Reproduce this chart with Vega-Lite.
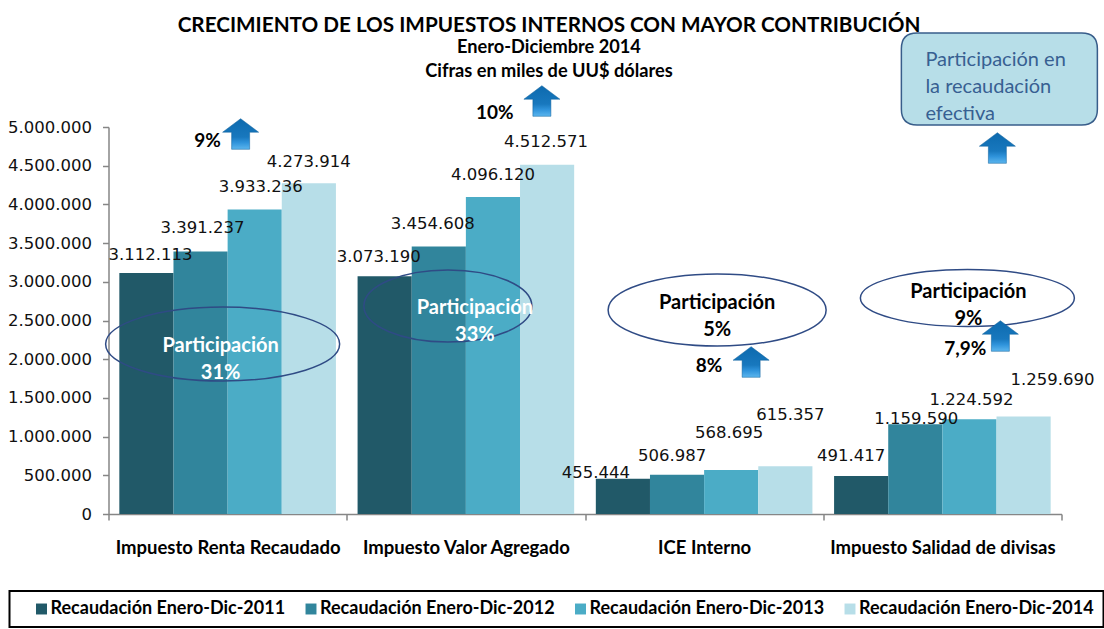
{"$schema":"https://vega.github.io/schema/vega-lite/v6.json","width":953,"height":387,"autosize":{"type":"none"},"padding":{"left":108.5,"top":127,"right":42,"bottom":115},"background":"white",
"config":{"view":{"stroke":null},"legend":{"strokeWidth":2},"locale":{"number":{"decimal":",","thousands":".","grouping":[3],"currency":["$",""]}},"text":{"font":"DejaVu Sans"}},
"title":{"text":"CRECIMIENTO DE LOS IMPUESTOS INTERNOS CON MAYOR CONTRIBUCIÓN","subtitle":["Enero-Diciembre 2014","Cifras en miles de UU$ dólares"],"font":"Lato","fontSize":20.7,"fontWeight":"bold","color":"black","subtitleFont":"Lato","subtitleFontSize":18.2,"subtitleFontWeight":"bold","subtitleColor":"black","subtitleLineHeight":24,"subtitlePadding":2,"anchor":"middle","dx":-36,"offset":-51},
"datasets":{"bars":[
{"impuesto":"Impuesto Renta Recaudado","serie":"Recaudación Enero-Dic-2011","valor":3112113},
{"impuesto":"Impuesto Renta Recaudado","serie":"Recaudación Enero-Dic-2012","valor":3391237},
{"impuesto":"Impuesto Renta Recaudado","serie":"Recaudación Enero-Dic-2013","valor":3933236},
{"impuesto":"Impuesto Renta Recaudado","serie":"Recaudación Enero-Dic-2014","valor":4273914},
{"impuesto":"Impuesto Valor Agregado","serie":"Recaudación Enero-Dic-2011","valor":3073190},
{"impuesto":"Impuesto Valor Agregado","serie":"Recaudación Enero-Dic-2012","valor":3454608},
{"impuesto":"Impuesto Valor Agregado","serie":"Recaudación Enero-Dic-2013","valor":4096120},
{"impuesto":"Impuesto Valor Agregado","serie":"Recaudación Enero-Dic-2014","valor":4512571},
{"impuesto":"ICE Interno","serie":"Recaudación Enero-Dic-2011","valor":455444},
{"impuesto":"ICE Interno","serie":"Recaudación Enero-Dic-2012","valor":506987},
{"impuesto":"ICE Interno","serie":"Recaudación Enero-Dic-2013","valor":568695},
{"impuesto":"ICE Interno","serie":"Recaudación Enero-Dic-2014","valor":615357},
{"impuesto":"Impuesto Salidad de divisas","serie":"Recaudación Enero-Dic-2011","valor":491417},
{"impuesto":"Impuesto Salidad de divisas","serie":"Recaudación Enero-Dic-2012","valor":1159590},
{"impuesto":"Impuesto Salidad de divisas","serie":"Recaudación Enero-Dic-2013","valor":1224592},
{"impuesto":"Impuesto Salidad de divisas","serie":"Recaudación Enero-Dic-2014","valor":1259690}],
"notes":[
{"id":"a1","impuesto":"Impuesto Renta Recaudado","valor":4909600},
{"id":"a2","impuesto":"Impuesto Valor Agregado","valor":5336000},
{"id":"a3","impuesto":"ICE Interno","valor":1963900},
{"id":"a4","impuesto":"Impuesto Salidad de divisas","valor":2299700},
{"id":"a5","impuesto":"Impuesto Salidad de divisas","valor":4728700},
{"id":"p1","impuesto":"Impuesto Renta Recaudado","valor":4819000,"texto":"9%"},
{"id":"p2","impuesto":"Impuesto Valor Agregado","valor":5181000,"texto":"10%"},
{"id":"p3","impuesto":"ICE Interno","valor":1912000,"texto":"8%"},
{"id":"p4","impuesto":"Impuesto Salidad de divisas","valor":2131800,"texto":"7,9%"},
{"id":"e1","impuesto":"Impuesto Renta Recaudado","valor":2196000},
{"id":"e2","impuesto":"Impuesto Valor Agregado","valor":2687000},
{"id":"e3","impuesto":"ICE Interno","valor":2635600},
{"id":"e4","impuesto":"Impuesto Salidad de divisas","valor":2790700},
{"id":"t1","impuesto":"Impuesto Renta Recaudado","valor":2170000,"texto":"Participación\n31%"},
{"id":"t2","impuesto":"Impuesto Valor Agregado","valor":2661000,"texto":"Participación\n33%"},
{"id":"t3","impuesto":"ICE Interno","valor":2726000,"texto":"Participación\n5%"},
{"id":"t4","impuesto":"Impuesto Salidad de divisas","valor":2868000,"texto":"Participación\n9%"},
{"id":"box","impuesto":"Impuesto Salidad de divisas","valor":5620000},
{"id":"boxt","impuesto":"Impuesto Salidad de divisas","valor":5865000,"texto":"Participación en\nla recaudación\nefectiva"}]},
"data":{"name":"bars"},
"encoding":{"x":{"field":"impuesto","type":"nominal","sort":null,"scale":{"paddingInner":0,"paddingOuter":0},"axis":{"title":null,"labelAngle":0,"labelFont":"Lato","labelFontWeight":"bold","labelFontSize":18.5,"labelColor":"black","labelPadding":18,"labelLimit":300,"tickBand":"extent","tickSize":6,"tickColor":"#868686","domainColor":"#868686","domainWidth":1.5,"tickWidth":1.5}},
"y":{"field":"valor","type":"quantitative","scale":{"domain":[0,5000000],"nice":false},"axis":{"title":null,"values":[0,500000,1000000,1500000,2000000,2500000,3000000,3500000,4000000,4500000,5000000],"format":",d","grid":false,"labelFont":"DejaVu Sans","labelFontSize":16.5,"labelColor":"#111","labelPadding":11,"tickSize":6,"tickColor":"#868686","domainColor":"#868686","domainWidth":1.5,"tickWidth":1.5}}},
"layer":[
{"mark":{"type":"bar","clip":false},"encoding":{"xOffset":{"field":"serie","type":"nominal","sort":null,"scale":{"paddingInner":0,"paddingOuter":0.2}},
"color":{"field":"serie","type":"nominal","sort":null,"scale":{"range":["#215968","#31859C","#4BACC6","#B7DEE8"]},"legend":{"title":null,"orient":"none","legendX":-99,"legendY":464,"direction":"horizontal","columns":4,"symbolType":"square","symbolSize":120,"symbolStrokeWidth":0,"labelFont":"Lato","labelFontWeight":"bold","labelFontSize":18,"labelColor":"black","labelLimit":300,"labelOffset":0,"columnPadding":2.5,"padding":9,"strokeColor":"black","fillColor":"white","symbolOffset":14}}}},
{"transform":[{"filter":"datum.valor==3112113"}],"mark":{"type":"text","fontSize":16.5,"dx":4,"dy":-18,"color":"#111"},"encoding":{"xOffset":{"field":"serie","type":"nominal","sort":null},"text":{"field":"valor","format":",d"}}},
{"transform":[{"filter":"datum.valor==3391237"}],"mark":{"type":"text","fontSize":16.5,"dx":2,"dy":-24,"color":"#111"},"encoding":{"xOffset":{"field":"serie","type":"nominal","sort":null},"text":{"field":"valor","format":",d"}}},
{"transform":[{"filter":"datum.valor==3933236"}],"mark":{"type":"text","fontSize":16.5,"dx":6,"dy":-23,"color":"#111"},"encoding":{"xOffset":{"field":"serie","type":"nominal","sort":null},"text":{"field":"valor","format":",d"}}},
{"transform":[{"filter":"datum.valor==4273914"}],"mark":{"type":"text","fontSize":16.5,"dx":0,"dy":-21,"color":"#111"},"encoding":{"xOffset":{"field":"serie","type":"nominal","sort":null},"text":{"field":"valor","format":",d"}}},
{"transform":[{"filter":"datum.valor==3073190"}],"mark":{"type":"text","fontSize":16.5,"dx":-6,"dy":-19,"color":"#111"},"encoding":{"xOffset":{"field":"serie","type":"nominal","sort":null},"text":{"field":"valor","format":",d"}}},
{"transform":[{"filter":"datum.valor==3454608"}],"mark":{"type":"text","fontSize":16.5,"dx":-6,"dy":-23,"color":"#111"},"encoding":{"xOffset":{"field":"serie","type":"nominal","sort":null},"text":{"field":"valor","format":",d"}}},
{"transform":[{"filter":"datum.valor==4096120"}],"mark":{"type":"text","fontSize":16.5,"dx":0,"dy":-22,"color":"#111"},"encoding":{"xOffset":{"field":"serie","type":"nominal","sort":null},"text":{"field":"valor","format":",d"}}},
{"transform":[{"filter":"datum.valor==4512571"}],"mark":{"type":"text","fontSize":16.5,"dx":-1,"dy":-23,"color":"#111"},"encoding":{"xOffset":{"field":"serie","type":"nominal","sort":null},"text":{"field":"valor","format":",d"}}},
{"transform":[{"filter":"datum.valor==455444"}],"mark":{"type":"text","fontSize":16.5,"dx":-27,"dy":-6,"color":"#111"},"encoding":{"xOffset":{"field":"serie","type":"nominal","sort":null},"text":{"field":"valor","format":",d"}}},
{"transform":[{"filter":"datum.valor==506987"}],"mark":{"type":"text","fontSize":16.5,"dx":-5,"dy":-19,"color":"#111"},"encoding":{"xOffset":{"field":"serie","type":"nominal","sort":null},"text":{"field":"valor","format":",d"}}},
{"transform":[{"filter":"datum.valor==568695"}],"mark":{"type":"text","fontSize":16.5,"dx":-2,"dy":-37,"color":"#111"},"encoding":{"xOffset":{"field":"serie","type":"nominal","sort":null},"text":{"field":"valor","format":",d"}}},
{"transform":[{"filter":"datum.valor==615357"}],"mark":{"type":"text","fontSize":16.5,"dx":5,"dy":-51,"color":"#111"},"encoding":{"xOffset":{"field":"serie","type":"nominal","sort":null},"text":{"field":"valor","format":",d"}}},
{"transform":[{"filter":"datum.valor==491417"}],"mark":{"type":"text","fontSize":16.5,"dx":-10,"dy":-20,"color":"#111"},"encoding":{"xOffset":{"field":"serie","type":"nominal","sort":null},"text":{"field":"valor","format":",d"}}},
{"transform":[{"filter":"datum.valor==1159590"}],"mark":{"type":"text","fontSize":16.5,"dx":1,"dy":-5,"color":"#111"},"encoding":{"xOffset":{"field":"serie","type":"nominal","sort":null},"text":{"field":"valor","format":",d"}}},
{"transform":[{"filter":"datum.valor==1224592"}],"mark":{"type":"text","fontSize":16.5,"dx":2,"dy":-19,"color":"#111"},"encoding":{"xOffset":{"field":"serie","type":"nominal","sort":null},"text":{"field":"valor","format":",d"}}},
{"transform":[{"filter":"datum.valor==1259690"}],"mark":{"type":"text","fontSize":16.5,"dx":29,"dy":-37,"color":"#111"},"encoding":{"xOffset":{"field":"serie","type":"nominal","sort":null},"text":{"field":"valor","format":",d"}}},
{"data":{"name":"notes"},"transform":[{"filter":"datum.id=='e1'"}],"mark":{"type":"point","xOffset":-5,"size":54756,"filled":false,"stroke":"#2F4B85","strokeWidth":1.5,"opacity":1,"shape":"M-1,0C-1,-0.175,-0.552,-0.316,0,-0.316C0.552,-0.316,1,-0.175,1,0C1,0.175,0.552,0.316,0,0.316C-0.552,0.316,-1,0.175,-1,0Z"}},
{"data":{"name":"notes"},"transform":[{"filter":"datum.id=='e2'"}],"mark":{"type":"point","xOffset":-18,"size":28224,"filled":false,"stroke":"#2F4B85","strokeWidth":1.5,"opacity":1,"shape":"M-1,0C-1,-0.237,-0.552,-0.429,0,-0.429C0.552,-0.429,1,-0.237,1,0C1,0.237,0.552,0.429,0,0.429C-0.552,0.429,-1,0.237,-1,0Z"}},
{"data":{"name":"notes"},"transform":[{"filter":"datum.id=='e3'"}],"mark":{"type":"point","xOffset":13,"size":47524,"filled":false,"stroke":"#2F4B85","strokeWidth":1.5,"opacity":1,"shape":"M-1,0C-1,-0.182,-0.552,-0.33,0,-0.33C0.552,-0.33,1,-0.182,1,0C1,0.182,0.552,0.33,0,0.33C-0.552,0.33,-1,0.182,-1,0Z"}},
{"data":{"name":"notes"},"transform":[{"filter":"datum.id=='e4'"}],"mark":{"type":"point","xOffset":25,"size":45796,"filled":false,"stroke":"#2F4B85","strokeWidth":1.5,"opacity":1,"shape":"M-1,0C-1,-0.147,-0.552,-0.266,0,-0.266C0.552,-0.266,1,-0.147,1,0C1,0.147,0.552,0.266,0,0.266C-0.552,0.266,-1,0.147,-1,0Z"}},
{"data":{"name":"notes"},"transform":[{"filter":"datum.id=='box'"}],"mark":{"type":"point","xOffset":57,"size":38416,"filled":true,"fill":"#B7DEE8","stroke":"#385D8A","strokeWidth":1.5,"opacity":1,"shape":"M-0.84,-0.469L0.84,-0.469Q1,-0.469,1,-0.309L1,0.309Q1,0.469,0.84,0.469L-0.84,0.469Q-1,0.469,-1,0.309L-1,-0.309Q-1,-0.469,-0.84,-0.469Z"}},
{"data":{"name":"notes"},"transform":[{"filter":"datum.id=='boxt'"}],"mark":{"type":"text","xOffset":-17,"align":"left","font":"Lato","fontSize":20,"lineBreak":"\n","lineHeight":27,"color":"#376092"},"encoding":{"text":{"field":"texto"}}},
{"data":{"name":"notes"},"transform":[{"filter":"datum.id=='t1'"}],"mark":{"type":"text","xOffset":-7,"font":"Lato","fontWeight":"bold","fontSize":20,"lineBreak":"\n","lineHeight":27,"color":"white"},"encoding":{"text":{"field":"texto"}}},
{"data":{"name":"notes"},"transform":[{"filter":"datum.id=='t2'"}],"mark":{"type":"text","xOffset":9,"font":"Lato","fontWeight":"bold","fontSize":20,"lineBreak":"\n","lineHeight":27,"color":"white"},"encoding":{"text":{"field":"texto"}}},
{"data":{"name":"notes"},"transform":[{"filter":"datum.id=='t3'"}],"mark":{"type":"text","xOffset":13,"font":"Lato","fontWeight":"bold","fontSize":20,"lineBreak":"\n","lineHeight":27,"color":"black"},"encoding":{"text":{"field":"texto"}}},
{"data":{"name":"notes"},"transform":[{"filter":"datum.id=='t4'"}],"mark":{"type":"text","xOffset":26,"font":"Lato","fontWeight":"bold","fontSize":20,"lineBreak":"\n","lineHeight":27,"color":"black"},"encoding":{"text":{"field":"texto"}}},
{"data":{"name":"notes"},"transform":[{"filter":"datum.id=='p1'"}],"mark":{"type":"text","xOffset":-20,"font":"Lato","fontWeight":"bold","fontSize":19,"color":"black"},"encoding":{"text":{"field":"texto"}}},
{"data":{"name":"notes"},"transform":[{"filter":"datum.id=='p2'"}],"mark":{"type":"text","xOffset":29,"font":"Lato","fontWeight":"bold","fontSize":19,"color":"black"},"encoding":{"text":{"field":"texto"}}},
{"data":{"name":"notes"},"transform":[{"filter":"datum.id=='p3'"}],"mark":{"type":"text","xOffset":5,"font":"Lato","fontWeight":"bold","fontSize":19,"color":"black"},"encoding":{"text":{"field":"texto"}}},
{"data":{"name":"notes"},"transform":[{"filter":"datum.id=='p4'"}],"mark":{"type":"text","xOffset":23,"font":"Lato","fontWeight":"bold","fontSize":19,"color":"black"},"encoding":{"text":{"field":"texto"}}},
{"data":{"name":"notes"},"transform":[{"filter":"datum.id=='a1'"}],"mark":{"type":"point","xOffset":13,"size":1296,"filled":true,"opacity":1,"stroke":"#0B5C99","strokeWidth":0.5,"fill":{"gradient":"linear","x1":0,"y1":0,"x2":0,"y2":1,"stops":[{"offset":0,"color":"#0D6AAE"},{"offset":0.6,"color":"#1878BE"},{"offset":0.78,"color":"#2F93DB"},{"offset":1,"color":"#5CB6EE"}]},"shape":"M0,-0.85L1,-0.1L0.5,-0.1L0.5,0.85L-0.5,0.85L-0.5,-0.1L-1,-0.1Z"}},
{"data":{"name":"notes"},"transform":[{"filter":"datum.id=='a2'"}],"mark":{"type":"point","xOffset":76,"size":1296,"filled":true,"opacity":1,"stroke":"#0B5C99","strokeWidth":0.5,"fill":{"gradient":"linear","x1":0,"y1":0,"x2":0,"y2":1,"stops":[{"offset":0,"color":"#0D6AAE"},{"offset":0.6,"color":"#1878BE"},{"offset":0.78,"color":"#2F93DB"},{"offset":1,"color":"#5CB6EE"}]},"shape":"M0,-0.85L1,-0.1L0.5,-0.1L0.5,0.85L-0.5,0.85L-0.5,-0.1L-1,-0.1Z"}},
{"data":{"name":"notes"},"transform":[{"filter":"datum.id=='a3'"}],"mark":{"type":"point","xOffset":47,"size":1296,"filled":true,"opacity":1,"stroke":"#0B5C99","strokeWidth":0.5,"fill":{"gradient":"linear","x1":0,"y1":0,"x2":0,"y2":1,"stops":[{"offset":0,"color":"#0D6AAE"},{"offset":0.6,"color":"#1878BE"},{"offset":0.78,"color":"#2F93DB"},{"offset":1,"color":"#5CB6EE"}]},"shape":"M0,-0.85L1,-0.1L0.5,-0.1L0.5,0.85L-0.5,0.85L-0.5,-0.1L-1,-0.1Z"}},
{"data":{"name":"notes"},"transform":[{"filter":"datum.id=='a4'"}],"mark":{"type":"point","xOffset":58,"size":1296,"filled":true,"opacity":1,"stroke":"#0B5C99","strokeWidth":0.5,"fill":{"gradient":"linear","x1":0,"y1":0,"x2":0,"y2":1,"stops":[{"offset":0,"color":"#0D6AAE"},{"offset":0.6,"color":"#1878BE"},{"offset":0.78,"color":"#2F93DB"},{"offset":1,"color":"#5CB6EE"}]},"shape":"M0,-0.85L1,-0.1L0.5,-0.1L0.5,0.85L-0.5,0.85L-0.5,-0.1L-1,-0.1Z"}},
{"data":{"name":"notes"},"transform":[{"filter":"datum.id=='a5'"}],"mark":{"type":"point","xOffset":55,"size":1296,"filled":true,"opacity":1,"stroke":"#0B5C99","strokeWidth":0.5,"fill":{"gradient":"linear","x1":0,"y1":0,"x2":0,"y2":1,"stops":[{"offset":0,"color":"#0D6AAE"},{"offset":0.6,"color":"#1878BE"},{"offset":0.78,"color":"#2F93DB"},{"offset":1,"color":"#5CB6EE"}]},"shape":"M0,-0.85L1,-0.1L0.5,-0.1L0.5,0.85L-0.5,0.85L-0.5,-0.1L-1,-0.1Z"}}
]}
